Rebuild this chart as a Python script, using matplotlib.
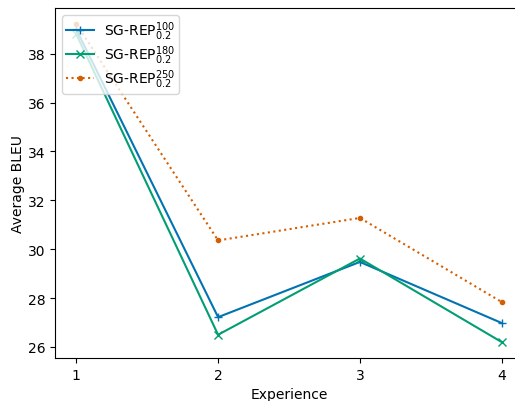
import matplotlib
matplotlib.use('Agg')
import matplotlib.pyplot as plt

experience = [1, 2, 3, 4]
bleu_100 = [39.0, 27.22, 29.48, 26.98]
bleu_180 = [38.8, 26.5, 29.62, 26.2]
bleu_250 = [39.22, 30.36, 31.28, 27.84]

fig = plt.figure(figsize=(5.15, 4.02), dpi=100)
ax = fig.add_axes([0.1068, 0.107, 0.9087, 0.8706])

ax.plot(experience, bleu_100, marker='+', color='#0173b2', label=r'SG-REP$^{100}_{0.2}$')
ax.plot(experience, bleu_180, marker='x', color='#029e73', label=r'SG-REP$^{180}_{0.2}$')
ax.plot(experience, bleu_250, marker='.', linestyle=':', color='#d55e00', label=r'SG-REP$^{250}_{0.2}$')

ax.set_xticks(experience)
ax.set_xlabel('Experience')
ax.set_ylabel('Average BLEU', labelpad=2)
ax.legend(loc='upper left', labelspacing=0.1, handletextpad=0.7, borderpad=0.3)

fig.savefig('out.png', dpi=100)
